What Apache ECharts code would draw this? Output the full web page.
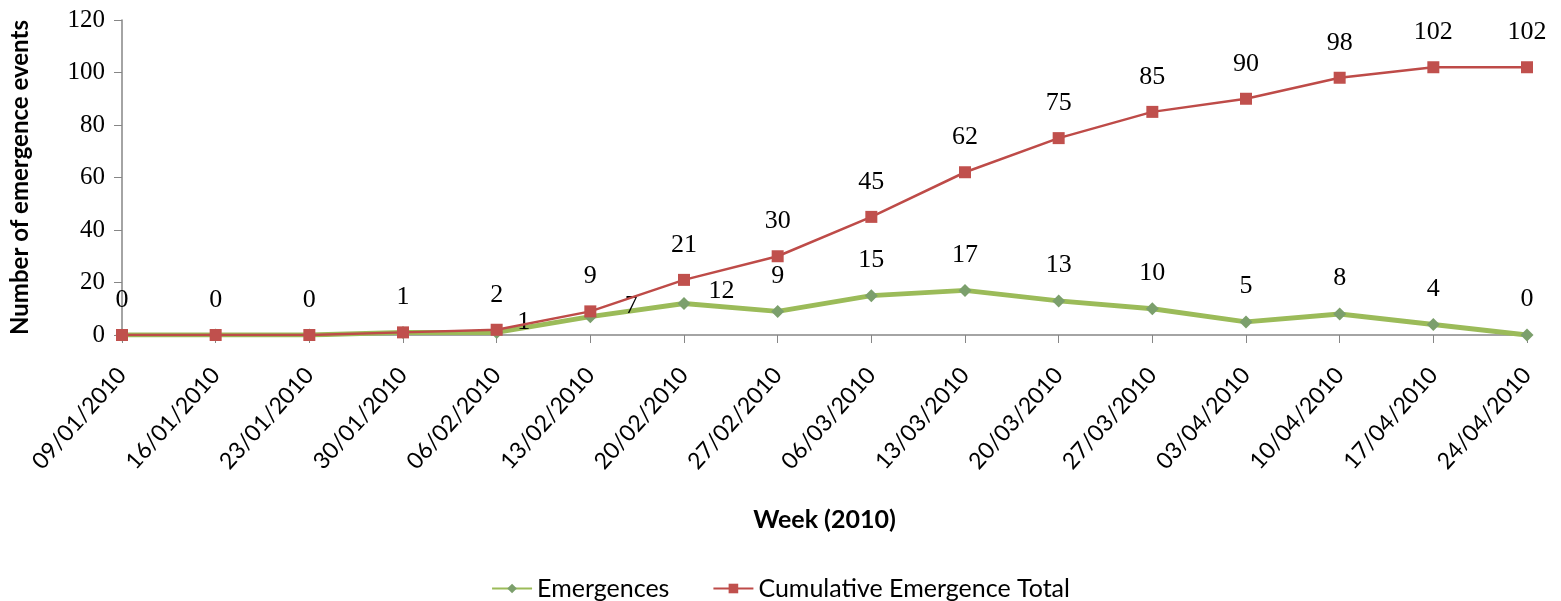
<!DOCTYPE html>
<html>
<head>
<meta charset="utf-8">
<script src="https://cdn.jsdelivr.net/npm/echarts@6/dist/echarts.min.js"></script>
<style>
  html, body { margin: 0; padding: 0; background: #fff; }
  #chart { width: 1561px; height: 601px; }
</style>
</head>
<body>
<div id="chart"></div>
<script>
// week labels (x axis)
var weeks = ['09/01/2010', '16/01/2010', '23/01/2010', '30/01/2010', '06/02/2010', '13/02/2010',
  '20/02/2010', '27/02/2010', '06/03/2010', '13/03/2010', '20/03/2010', '27/03/2010',
  '03/04/2010', '10/04/2010', '17/04/2010', '24/04/2010'];
// emergences per week
var emergences = [0, 0, 0, 1, 1, 7, 12, 9, 15, 17, 13, 10, 5, 8, 4, 0];
// running total
var cumulative = [0, 0, 0, 1, 2, 9, 21, 30, 45, 62, 75, 85, 90, 98, 102, 102];
// y ticks
var yMin = 0, yMax = 120, yStep = 20;

var labelFont = 'Liberation Serif';
var sansFont = 'Lato';

// where the emergence labels sit (hidden ones overlap the total's labels)
function emergenceLabel(i) {
  if (i <= 3) return { show: false };
  if (i === 4) return { position: 'right', distance: 14, offset: [0, -10] };
  if (i === 5) return { position: 'right', distance: 28, offset: [0, -10] };
  if (i === 6) return { position: 'right', distance: 18, offset: [0, -12] };
  return {};
}

var emData = emergences.map(function (v, i) {
  return { value: v, label: emergenceLabel(i) };
});

var chart = echarts.init(document.getElementById('chart'));
chart.setOption({
  animation: false,
  backgroundColor: '#ffffff',
  grid: { left: 122, right: 34, top: 20, bottom: 266 },
  legend: {
    top: 571,
    left: 'center',
    itemWidth: 40,
    itemHeight: 12,
    itemGap: 43,
    textStyle: { fontFamily: sansFont, fontSize: 25, color: '#000' },
    data: ['Emergences', 'Cumulative Emergence Total']
  },
  xAxis: {
    type: 'category',
    boundaryGap: false,
    data: weeks,
    name: 'Week (2010)',
    nameLocation: 'middle',
    nameGap: 172,
    nameTextStyle: { fontFamily: sansFont, fontWeight: 'bold', fontSize: 25, color: '#000' },
    axisLine: { lineStyle: { color: '#868686', width: 1.5 } },
    axisTick: { alignWithLabel: true, length: 8, lineStyle: { color: '#868686' } },
    axisLabel: { rotate: 48, fontFamily: sansFont, fontSize: 23, color: '#000', margin: 36, interval: 0 }
  },
  yAxis: {
    type: 'value',
    min: yMin,
    max: yMax,
    interval: yStep,
    name: 'Number of emergence events',
    nameLocation: 'middle',
    nameGap: 90,
    nameTextStyle: { fontFamily: sansFont, fontWeight: 'bold', fontSize: 24, color: '#000' },
    axisLine: { show: true, lineStyle: { color: '#868686', width: 1.5 } },
    axisTick: { show: true, length: 8, lineStyle: { color: '#868686' } },
    splitLine: { show: false },
    axisLabel: { fontFamily: labelFont, fontSize: 25, color: '#000', margin: 17 }
  },
  series: [
    {
      name: 'Emergences',
      type: 'line',
      data: emData,
      symbol: 'diamond',
      symbolSize: 13,
      lineStyle: { color: '#9BBB59', width: 5 },
      itemStyle: { color: '#7B9F6C' },
      label: { show: true, position: 'top', distance: 16, fontFamily: labelFont, fontSize: 26, color: '#000' },
      z: 2
    },
    {
      name: 'Cumulative Emergence Total',
      type: 'line',
      data: cumulative,
      symbol: 'rect',
      symbolSize: 12,
      lineStyle: { color: '#BE4B48', width: 2.5 },
      itemStyle: { color: '#C0504D' },
      label: { show: true, position: 'top', distance: 16, fontFamily: labelFont, fontSize: 26, color: '#000' },
      z: 3
    }
  ]
});
</script>
</body>
</html>
